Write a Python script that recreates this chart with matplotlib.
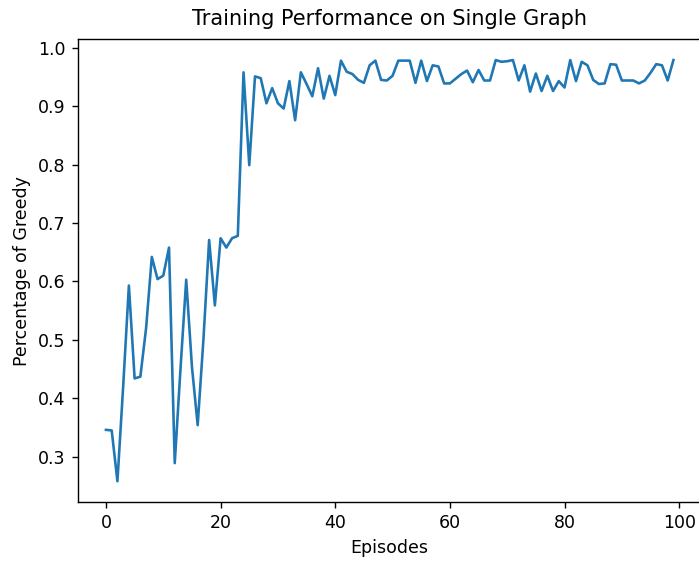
import matplotlib
matplotlib.use("Agg")
import matplotlib.pyplot as plt

# percentage of greedy per episode
greedy = [
    0.346, 0.345, 0.258, 0.42, 0.593, 0.434, 0.437, 0.52, 0.642, 0.604,
    0.61, 0.658, 0.289, 0.45, 0.603, 0.454, 0.354, 0.50, 0.671, 0.559,
    0.674, 0.658, 0.674, 0.678, 0.958, 0.799, 0.951, 0.948, 0.905, 0.931,
    0.905, 0.896, 0.943, 0.876, 0.958, 0.938, 0.917, 0.965, 0.913, 0.952,
    0.919, 0.978, 0.959, 0.955, 0.945, 0.940, 0.970, 0.978, 0.945, 0.944,
    0.952, 0.978, 0.978, 0.978, 0.940, 0.978, 0.943, 0.970, 0.968, 0.939,
    0.939, 0.947, 0.955, 0.961, 0.941, 0.962, 0.944, 0.944, 0.979, 0.976,
    0.977, 0.979, 0.944, 0.970, 0.925, 0.956, 0.926, 0.952, 0.926, 0.943,
    0.932, 0.979, 0.943, 0.976, 0.970, 0.945, 0.938, 0.939, 0.972, 0.971,
    0.944, 0.944, 0.944, 0.939, 0.944, 0.957, 0.972, 0.970, 0.944, 0.979,
]
episodes = list(range(len(greedy)))

dpi = 125
fig, ax = plt.subplots(figsize=(699 / dpi, 561 / dpi), dpi=dpi)
# the reference is cropped just past the right spine
fig.subplots_adjust(left=0.111, right=1.004, top=0.9305, bottom=0.1046)

ax.plot(episodes, greedy)
ax.set_title("Training Performance on Single Graph", pad=8)
ax.set_xlabel("Episodes")
ax.set_ylabel("Percentage of Greedy")

fig.savefig("out.png")
